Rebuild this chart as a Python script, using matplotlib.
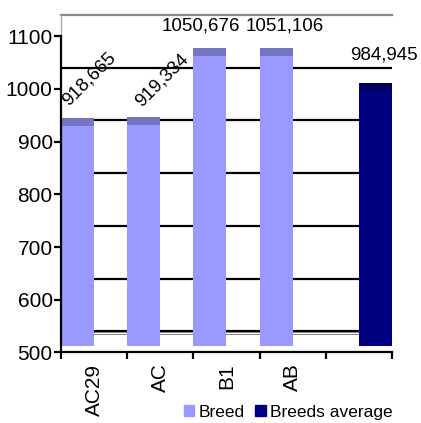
import numpy as np
import matplotlib.pyplot as plt
from matplotlib.transforms import ScaledTranslation
from matplotlib.patches import Patch

plt.rcParams['font.family'] = ['Liberation Sans', 'DejaVu Sans']

breeds = ['AC29', 'AC', 'B1', 'AB']
breed_values = [918.665, 919.334, 1050.676, 1051.106]
average_value = 984.945
value_labels = ['918,665', '919,334', '1050,676', '1051,106']
average_label = '984,945'
y_ticks = [500, 600, 700, 800, 900, 1000, 1100]

light = '#9999ff'
light_top = '#7474c2'
navy = '#000080'
navy_top = '#00005c'

fig = plt.figure(figsize=(4.21, 4.23), dpi=100)
ax = fig.add_axes([0.145, 0.1667, 0.786, 0.799])
ax.set_xlim(-0.5, 4.5)
ax.set_ylim(500, 1141)

# back wall: grid sits a little higher than the axis ticks
for g in y_ticks[1:]:
    ax.axhline(g + 40 - 100, color='black', lw=1.6, zorder=1)
ax.axhline(y_ticks[0] + 35, color='#808080', lw=0.7, zorder=1)
ax.axhline(y_ticks[0] + 39, color='#808080', lw=0.7, zorder=1)
ax.axhline(1141, color='#888888', lw=1.6, zorder=1, clip_on=False)
ax.plot([-0.5, -0.5], [1100, 1141], color='#aaaaaa', lw=1.0, clip_on=False)

# columns lifted a few pixels, with a darker top face
lift = ax.transData + ScaledTranslation(0, 6 / 100, fig.dpi_scale_trans)
cap = 15
x = np.arange(len(breeds))
ax.bar(x - 0.25, np.array(breed_values) - 500, bottom=500, width=0.5,
       color=light, transform=lift, zorder=2)
ax.bar(x - 0.25, cap, bottom=breed_values, width=0.5,
       color=light_top, transform=lift, zorder=2)
ax.bar(4.25, average_value - 500, bottom=500, width=0.5,
       color=navy, transform=lift, zorder=2)
ax.bar(4.25, cap, bottom=average_value, width=0.5,
       color=navy_top, transform=lift, zorder=2)

# value labels
offsets = [(8.6, 38, 45), (13, 37, 45), (-6.5, 26, 0), (6, 26, 0)]
for xi, v, lab, (dx, dy, rot) in zip(x - 0.25, breed_values, value_labels, offsets):
    ax.annotate(lab, (xi, v), xytext=(dx, dy), textcoords='offset points',
                ha='center', va='center', rotation=rot, fontsize=13.5,
                annotation_clip=False)
ax.annotate(average_label, (4.25, average_value), xytext=(6, 30),
            textcoords='offset points', ha='center', va='center',
            fontsize=13.5, annotation_clip=False)

# axes
for s in ['top', 'right']:
    ax.spines[s].set_visible(False)
ax.spines['left'].set_bounds(500, 1100)
ax.spines['left'].set_linewidth(1.6)
ax.spines['bottom'].set_linewidth(1.6)
ax.set_yticks(y_ticks)
ax.tick_params(axis='y', length=5, width=1.6, pad=1, labelsize=15)
ax.set_xticks(np.arange(-0.5, 5, 1))
ax.set_xticklabels([])
ax.set_xticks(np.arange(len(breeds)), minor=True)
ax.set_xticklabels(breeds, minor=True, rotation=90, fontsize=15)
ax.tick_params(axis='x', which='major', length=5, width=1.6)
ax.tick_params(axis='x', which='minor', length=0, pad=8)

handles = [Patch(color=light, label='Breed'), Patch(color=navy, label='Breeds average')]
fig.legend(handles=handles, loc='center', bbox_to_anchor=(0.685, 0.026), ncol=2,
           frameon=False, fontsize=12.5, handlelength=0.6, handleheight=0.6,
           handletextpad=0.25, columnspacing=0.6)

fig.savefig('out.png', dpi=100)
